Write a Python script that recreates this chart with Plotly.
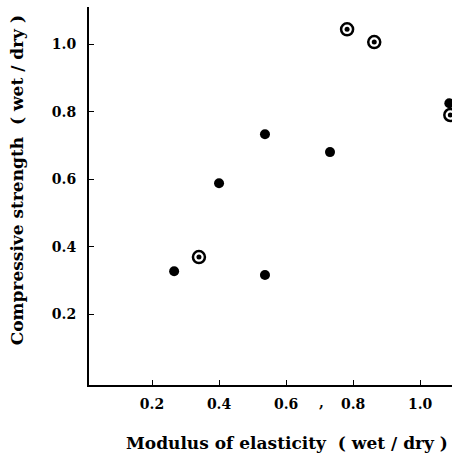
import plotly.graph_objects as go

# Filled dots
dot_x = [0.266, 0.40, 0.537, 0.537, 0.731, 1.087]
dot_y = [0.327, 0.588, 0.733, 0.316, 0.680, 0.825]
# Encircled dots
ring_x = [0.340, 0.782, 0.863, 1.09]
ring_y = [0.369, 1.044, 1.006, 0.79]

tick_vals = [0.2, 0.4, 0.6, 0.8, 1.0]
tick_text = ["0.2", "0.4", "0.6", "0.8", "1.0"]

FONT = "DejaVu Serif"

fig = go.Figure()
fig.add_trace(go.Scatter(x=dot_x, y=dot_y, mode="markers",
                         marker=dict(symbol="circle", size=10, color="black", line=dict(width=0)),
                         showlegend=False))
fig.add_trace(go.Scatter(x=ring_x, y=ring_y, mode="markers",
                         marker=dict(symbol="circle", size=12, color="white",
                                     line=dict(width=2.5, color="black")),
                         showlegend=False))
fig.add_trace(go.Scatter(x=ring_x, y=ring_y, mode="markers",
                         marker=dict(symbol="circle", size=5, color="black", line=dict(width=0)),
                         showlegend=False))

fig.update_layout(
    width=452, height=454,
    margin=dict(l=89, r=0, t=7, b=69),
    paper_bgcolor="white", plot_bgcolor="white",
    font=dict(family=FONT, color="black"),
    xaxis=dict(range=[0.012, 1.095], tickvals=tick_vals, ticktext=tick_text,
               ticks="inside", ticklen=5, tickwidth=1, tickcolor="black",
               showline=True, linewidth=2, linecolor="black", mirror=False,
               showgrid=False, zeroline=False, ticklabelstandoff=5,
               tickfont=dict(family=FONT, size=14, weight="bold")),
    yaxis=dict(range=[-0.01, 1.11], tickvals=tick_vals, ticktext=tick_text,
               ticks="inside", ticklen=5, tickwidth=1, tickcolor="black",
               showline=True, linewidth=2, linecolor="black", mirror=False,
               showgrid=False, zeroline=False, ticklabelstandoff=8,
               tickfont=dict(family=FONT, size=14, weight="bold")),
    annotations=[
        dict(text="Modulus of elasticity  ( wet / dry )", xref="paper", yref="paper",
             x=0.545, y=-0.153, xanchor="center", yanchor="middle", showarrow=False,
             font=dict(family=FONT, size=17, weight="bold")),
        dict(text="Compressive strength  ( wet / dry )", xref="paper", yref="paper",
             x=-0.198, y=0.542, xanchor="center", yanchor="middle", showarrow=False,
             textangle=-90, font=dict(family=FONT, size=17, weight="bold")),
        dict(text=",", xref="x", yref="paper", x=0.707, y=-0.045,
             xanchor="center", yanchor="middle", showarrow=False,
             font=dict(family=FONT, size=14, weight="bold")),
    ],
)

fig.write_html("out.html")
